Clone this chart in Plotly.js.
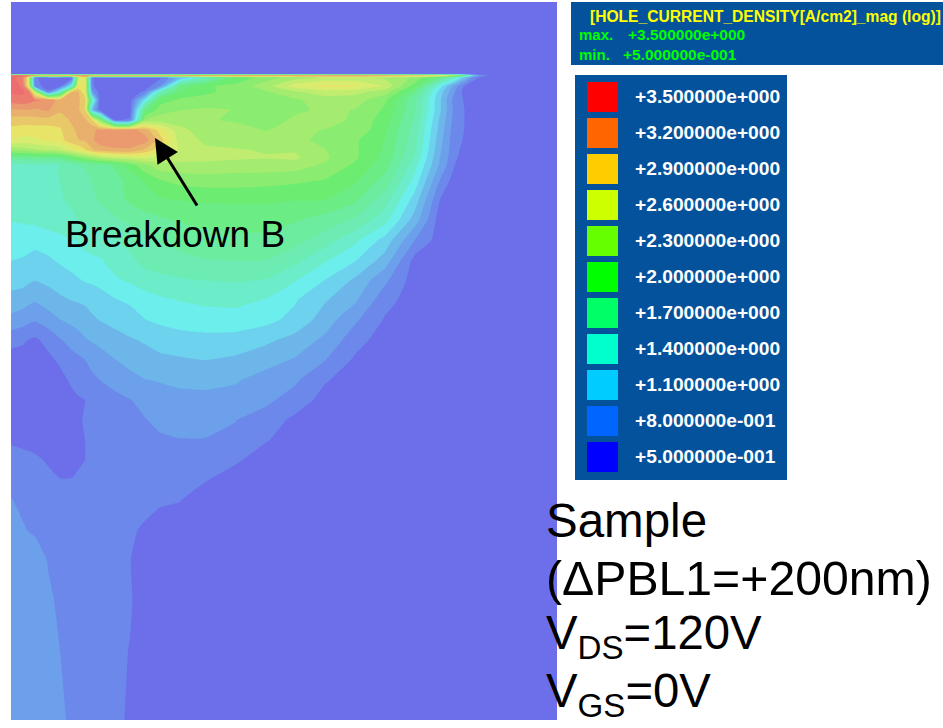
<!DOCTYPE html>
<html>
<head>
<meta charset="utf-8">
<script src="https://cdn.plot.ly/plotly-3.0.1.min.js"></script>
<style>html,body{margin:0;padding:0;background:#fff}#chart{width:943px;height:728px}</style>
</head>
<body>
<div id="chart"></div>
<script>
const xs = [11,23,29,35,48,60,72,78,85,92,100,115,130,145,160,180,205,235,265,295,325,355,385,415,440,455,465,475,490,557];
const ys = [74,75.5,77.5,86,92,100,110,120,130,140,150,158,165,180,200,220,240,260,280,300,320,340,360,380,400,420,440,460,480,500,530,560,600,650,720];
const background = 0.5;
const zRows = [
[.5],
[3.5,3.5,3.4,3.3,3.3,3.3,3.3,3.3,3.3,3.3,3.3,3.3,3.3,3.3,3.3,3.3,3.3,3.3,3.3,3.3,3.3,3.3,3.2,3.1,2.8,2.4,1.9,1.0],
[3.5,3.3,2.6,.6,.5,.5,.5,2.4,2.8,.6,.5,.5,.5,.5,.55,.95,1.45,1.95,2.15,2.3,2.4,2.4,2.35,2.2,1.8,1.4,1.0,.6],
[3.5,3.4,2.6,.65,.5,.5,1.3,2.7,2.8,.6,.5,.5,.5,.5,.7,1.8,2.05,2.12,2.3,2.6,2.72,2.7,2.5,2.0,1.25,.8,.55],
[3.45,3.45,3.35,2.5,.6,1.4,3.0,3.0,2.7,.8,.5,.5,.5,.6,1.5,1.95,2.05,2.12,2.2,2.35,2.45,2.42,2.3,1.8,1.1,.72],
[3.35,3.38,3.35,3.3,3.25,3.05,3.0,3.0,2.9,1.5,.5,.5,.5,1.2,2.0,2.1,2.12,2.2,2.15,2.2,2.3,2.3,2.1,1.65,1.05,.65,.56],
[3.1,3.12,3.12,3.1,3.15,3.0,3.0,3.0,2.85,1.0,.5,.5,.5,1.85,2.15,2.22,2.25,2.22,2.15,2.2,2.25,2.22,2.05,1.65,1.05,.67,.57],
[2.9,2.9,2.9,2.92,2.92,2.9,3.0,3.0,3.0,2.85,2.2,.55,.6,2.25,2.3,2.3,2.25,2.2,2.15,2.25,2.28,2.2,2.0,1.6,1.0,.66,.57],
[2.78,2.75,2.75,2.75,2.75,2.8,2.95,3.0,3.0,3.1,3.15,3.2,3.2,3.05,2.75,2.42,2.3,2.3,2.22,2.25,2.22,2.2,1.95,1.55,.97,.63,.57],
[2.68,2.62,2.63,2.65,2.7,2.75,2.95,2.97,3.0,3.1,3.2,3.22,3.22,3.2,2.9,2.45,2.35,2.35,2.28,2.25,2.2,2.1,1.92,1.53,.93,.62,.56],
[2.25,2.3,2.33,2.35,2.4,2.45,2.6,2.7,2.8,2.95,3.05,3.1,3.1,2.95,2.72,2.5,2.4,2.38,2.37,2.36,2.23,2.1,1.9,1.5,.9,.62,.52],
[1.7,1.7,1.72,1.75,1.75,1.8,1.95,2.05,2.15,2.25,2.35,2.45,2.5,2.55,2.48,2.42,2.42,2.4,2.38,2.4,2.25,2.1,1.88,1.45,.87,.6],
[1.44,1.44,1.44,1.44,1.45,1.48,1.58,1.62,1.64,1.68,1.72,1.8,2.0,2.2,2.32,2.34,2.33,2.3,2.31,2.3,2.2,2.05,1.84,1.37,.85,.57],
[1.41,1.41,1.42,1.42,1.44,1.48,1.53,1.56,1.59,1.63,1.67,1.73,1.82,1.94,2.07,2.13,2.16,2.16,2.14,2.11,2.07,1.95,1.72,1.27,.72],
[1.4,1.4,1.41,1.42,1.43,1.46,1.5,1.53,1.56,1.6,1.64,1.72,1.8,1.86,1.9,1.93,1.94,1.94,1.94,1.93,1.93,1.8,1.55,1.1,.575],
[1.33,1.34,1.35,1.36,1.39,1.41,1.45,1.48,1.5,1.52,1.55,1.6,1.66,1.71,1.75,1.79,1.84,1.86,1.86,1.79,1.71,1.6,1.38,.95],
[1.26,1.26,1.245,1.23,1.26,1.29,1.32,1.34,1.37,1.4,1.43,1.47,1.52,1.6,1.63,1.66,1.7,1.72,1.72,1.68,1.55,1.36,1.12,.725],
[1.18,1.16,1.14,1.12,1.15,1.2,1.25,1.27,1.29,1.3,1.31,1.4,1.44,1.53,1.57,1.6,1.62,1.63,1.63,1.52,1.35,1.19,.96,.52],
[1.09,1.08,1.05,1.03,1.06,1.09,1.13,1.16,1.19,1.2,1.22,1.3,1.35,1.4,1.43,1.46,1.48,1.49,1.47,1.34,1.175,1.0,.76],
[.97,.94,.91,.89,.95,1.0,1.03,1.04,1.05,1.08,1.11,1.165,1.2,1.26,1.3,1.33,1.35,1.36,1.32,1.19,1.04,.9,.63],
[.83,.79,.76,.74,.8,.87,.91,.93,.96,1.0,1.03,1.07,1.11,1.17,1.21,1.25,1.27,1.27,1.22,1.13,.95,.75,.56],
[.63,.6,.57,.55,.62,.71,.79,.82,.86,.89,.92,.97,1.01,1.04,1.07,1.1,1.12,1.11,1.06,.97,.84,.64],
[.5,.5,.5,.5,.54,.6,.66,.69,.725,.76,.8,.87,.92,.97,1.0,1.01,1.025,1.0,.93,.86,.73,.55],
[.5,.5,.5,.5,.5,.53,.6,.63,.67,.7,.725,.78,.83,.87,.885,.9,.9,.89,.82,.75,.59],
[.5,.5,.5,.5,.5,.5,.54,.56,.575,.6,.63,.68,.72,.76,.81,.84,.85,.82,.76,.66,.52],
[.5,.5,.5,.5,.5,.5,.53,.56,.585,.61,.63,.67,.70,.72,.75,.78,.77,.73,.66,.54],
[.55,.53,.525,.52,.5,.5,.52,.55,.575,.6,.62,.65,.67,.69,.71,.72,.72,.69,.59],
[.65,.63,.615,.6,.56,.52,.53,.55,.575,.6,.62,.64,.66,.67,.68,.68,.66,.6],
[.68,.66,.65,.64,.61,.58,.58,.6,.62,.63,.64,.65,.65,.65,.64,.62,.585],
[.73,.70,.69,.68,.67,.66,.66,.655,.65,.645,.64,.63,.62,.61,.6,.58],
[.78,.735,.72,.71,.69,.68,.67,.66,.65,.64,.63,.61,.59,.56],
[.78,.78,.78,.78,.72,.7,.68,.67,.66,.65,.64,.62,.58],
[.8,.8,.8,.8,.74,.71,.69,.68,.67,.66,.65,.62,.59],
[.8,.8,.8,.8,.8,.725,.7,.685,.67,.655,.64,.61,.57],
[.8,.8,.8,.8,.8,.75,.7,.685,.67,.65,.63,.6,.56]
];
const bandColors = ['#6c6eea','#6b88ea','#6da0ea','#6db6ea','#6dd2ee','#6beeec','#6cecc8','#6cecb2','#6cec9e','#6cec84','#6cec70','#8aec70','#a4ec70','#c0ec70','#d8ec70','#e8e468','#e8c868','#e8b06c','#ea9a6e','#ec7c70','#ec6c70'];
const legendLabels = ['+3.500000e+000','+3.200000e+000','+2.900000e+000','+2.600000e+000','+2.300000e+000','+2.000000e+000','+1.700000e+000','+1.400000e+000','+1.100000e+000','+8.000000e-001','+5.000000e-001'];
const legendColors = ['#ff0000','#ff6600','#ffcc00','#ccff00','#66ff00','#00ff00','#00ff66','#00ffcc','#00ccff','#0066ff','#0000ff'];
const panelColor = '#03529b';
const z = zRows.map(r => r.concat(new Array(xs.length - r.length).fill(background)));
const colorscale = bandColors.map((c, i) => [i / (bandColors.length - 1), c]);

const trace = {
  type: 'contour', x: xs, y: ys, z: z,
  autocontour: false,
  contours: {start: 0.575, end: 3.425, size: 0.15, coloring: 'fill', showlines: false},
  colorscale: colorscale, showscale: false, hoverinfo: 'skip',
  line: {width: 0, smoothing: 0.4}
};

const shapes = [
  {type:'rect', layer:'below', xref:'x', yref:'y', x0:11, x1:557, y0:2, y1:720, fillcolor:bandColors[0], line:{width:0}},
  {type:'rect', xref:'x', yref:'y', x0:571, x1:943, y0:2, y1:65, fillcolor:panelColor, line:{width:0}},
  {type:'rect', xref:'x', yref:'y', x0:575, x1:787, y0:75, y1:480, fillcolor:panelColor, line:{width:0}}
];
const ann = (x, y, text, size, color, bold, extra) => Object.assign({
  xref:'x', yref:'y', x, y, text, showarrow:false, xanchor:'left', yanchor:'middle',
  font:{family:'"Liberation Sans", Arial, sans-serif', size, color, weight: bold ? 700 : 400}
}, extra || {});
const annotations = [
  ann(588, 16, '[HOLE_CURRENT_DENSITY[A/cm2]_mag (log)]', 15.6, '#ffff00', true),
  ann(577, 34.5, 'max.', 15, '#00ff00', true),
  ann(626, 34.5, '+3.500000e+000', 15.5, '#00ff00', true),
  ann(577, 54.5, 'min.', 15, '#00ff00', true),
  ann(621, 54.5, '+5.000000e-001', 15.5, '#00ff00', true),
  ann(63, 234, 'Breakdown B', 37, '#000000', false),
  ann(544, 520, 'Sample', 47.5, '#000000', false),
  ann(544, 578, '(\u0394PBL1=+200nm)', 48.2, '#000000', false),
  ann(544, 636, 'V<sub>DS</sub>=120V', 47.3, '#000000', false),
  ann(544, 694, 'V<sub>GS</sub>=0V', 47.3, '#000000', false),
  {xref:'x', yref:'y', axref:'x', ayref:'y', x:155, y:138, ax:198, ay:207, text:'', showarrow:true, arrowhead:2, arrowsize:1.6, arrowwidth:3, arrowcolor:'#000000'}
];
legendLabels.forEach((label, i) => {
  const yc = 97 + 36 * i;
  shapes.push({type:'rect', xref:'x', yref:'y', x0:587, x1:618, y0:yc-15, y1:yc+15, fillcolor:legendColors[i], line:{width:0}});
  annotations.push(ann(633, yc - 1, label, 19.2, '#ffffff', true));
});

Plotly.newPlot('chart', [trace], {
  width: 943, height: 728, margin: {l:0, r:0, t:0, b:0, pad:0},
  paper_bgcolor:'#ffffff', plot_bgcolor:'#ffffff',
  xaxis:{range:[0,943], visible:false, fixedrange:true},
  yaxis:{range:[728,0], visible:false, fixedrange:true},
  shapes, annotations, showlegend:false
}, {displayModeBar:false, staticPlot:true});
</script>
</body>
</html>
